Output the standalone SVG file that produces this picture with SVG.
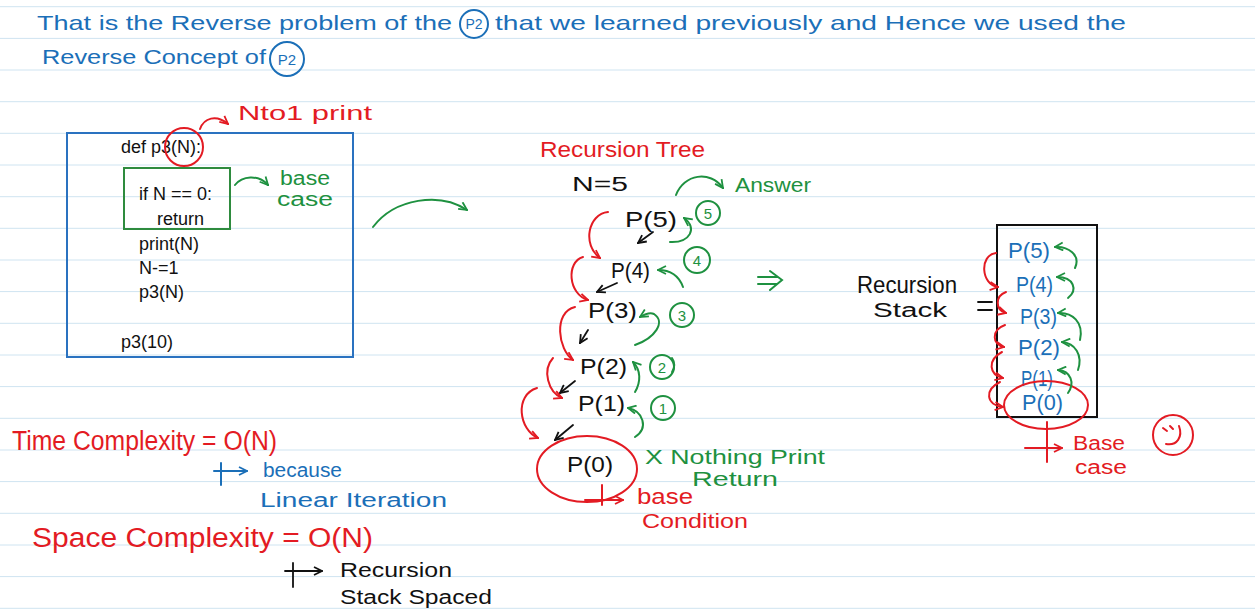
<svg xmlns="http://www.w3.org/2000/svg" width="1255" height="615" viewBox="0 0 1255 615">
<defs>
<style>
.rule{stroke:#cfe4f1;stroke-width:1}
.t{font-family:"Liberation Sans",Arial,sans-serif}
.code{font-family:"Liberation Sans",Arial,sans-serif;font-size:18px;fill:#111}
.blue{fill:#1b6fb8}
.red{fill:#e31b23}
.green{fill:#1e9140}
.black{fill:#111}
.sr{fill:none;stroke:#e31b23;stroke-width:2;stroke-linecap:round}
.sg{fill:none;stroke:#1e9140;stroke-width:2;stroke-linecap:round}
.sk{fill:none;stroke:#111;stroke-width:1.8;stroke-linecap:round}
.sb{fill:none;stroke:#1b6fb8;stroke-width:2;stroke-linecap:round}
.node{font-family:"Liberation Sans",Arial,sans-serif;font-size:22px}
</style>
<marker id="mr" viewBox="0 0 10 10" refX="9" refY="5" markerWidth="10" markerHeight="10" markerUnits="userSpaceOnUse" orient="auto"><path d="M1,1 L9,5 L1,9" fill="none" stroke="#e31b23" stroke-width="1.8"/></marker>
<marker id="mg" viewBox="0 0 10 10" refX="9" refY="5" markerWidth="10" markerHeight="10" markerUnits="userSpaceOnUse" orient="auto"><path d="M1,1 L9,5 L1,9" fill="none" stroke="#1e9140" stroke-width="1.8"/></marker>
<marker id="mk" viewBox="0 0 10 10" refX="9" refY="5" markerWidth="10" markerHeight="10" markerUnits="userSpaceOnUse" orient="auto"><path d="M1,1 L9,5 L1,9" fill="none" stroke="#111" stroke-width="1.8"/></marker>
<marker id="mb" viewBox="0 0 10 10" refX="9" refY="5" markerWidth="10" markerHeight="10" markerUnits="userSpaceOnUse" orient="auto"><path d="M1,1 L9,5 L1,9" fill="none" stroke="#1b6fb8" stroke-width="1.8"/></marker>
</defs>
<rect width="1255" height="615" fill="#ffffff"/>
<g id="ruled">
<line class="rule" x1="0" y1="6.7" x2="1255" y2="6.7"/>
<line class="rule" x1="0" y1="38.4" x2="1255" y2="38.4"/>
<line class="rule" x1="0" y1="70" x2="1255" y2="70"/>
<line class="rule" x1="0" y1="101.7" x2="1255" y2="101.7"/>
<line class="rule" x1="0" y1="133.3" x2="1255" y2="133.3"/>
<line class="rule" x1="0" y1="165" x2="1255" y2="165"/>
<line class="rule" x1="0" y1="196.7" x2="1255" y2="196.7"/>
<line class="rule" x1="0" y1="228.3" x2="1255" y2="228.3"/>
<line class="rule" x1="0" y1="260" x2="1255" y2="260"/>
<line class="rule" x1="0" y1="291.6" x2="1255" y2="291.6"/>
<line class="rule" x1="0" y1="323.3" x2="1255" y2="323.3"/>
<line class="rule" x1="0" y1="355" x2="1255" y2="355"/>
<line class="rule" x1="0" y1="386.6" x2="1255" y2="386.6"/>
<line class="rule" x1="0" y1="418.3" x2="1255" y2="418.3"/>
<line class="rule" x1="0" y1="450" x2="1255" y2="450"/>
<line class="rule" x1="0" y1="481.6" x2="1255" y2="481.6"/>
<line class="rule" x1="0" y1="513.3" x2="1255" y2="513.3"/>
<line class="rule" x1="0" y1="545" x2="1255" y2="545"/>
<line class="rule" x1="0" y1="576.6" x2="1255" y2="576.6"/>
<line class="rule" x1="0" y1="608.3" x2="1255" y2="608.3"/>
</g>

<g id="header">
<text class="t blue" x="37" y="30" font-size="21" textLength="415" lengthAdjust="spacingAndGlyphs">That is the Reverse problem of the</text>
<circle cx="474" cy="24" r="14" class="sb"/>
<text class="t blue" x="474" y="29" font-size="14" text-anchor="middle">P2</text>
<text class="t blue" x="495" y="30" font-size="21" textLength="631" lengthAdjust="spacingAndGlyphs">that we learned previously and Hence we used the</text>
<text class="t blue" x="42" y="64" font-size="21" textLength="224" lengthAdjust="spacingAndGlyphs">Reverse Concept of</text>
<circle cx="287" cy="59" r="17" class="sb"/>
<text class="t blue" x="287" y="65" font-size="15" text-anchor="middle">P2</text>
</g>

<g id="code-box">
<rect x="67" y="133" width="286" height="224" fill="none" stroke="#2a72c0" stroke-width="2"/>
<text class="code" x="121" y="153">def p3(N):</text>
<text class="code" x="139" y="200">if N == 0:</text>
<text class="code" x="157" y="225">return</text>
<text class="code" x="139" y="250">print(N)</text>
<text class="code" x="139" y="274">N-=1</text>
<text class="code" x="139" y="298">p3(N)</text>
<text class="code" x="121" y="348">p3(10)</text>
</g>

<g id="base-case-box">
<rect x="124" y="168" width="106" height="61" fill="none" stroke="#2e8b3e" stroke-width="2"/>
</g>

<g id="n-circle">
<circle cx="184" cy="147" r="19" class="sr"/>
</g>

<g id="note-nto1">
<text class="t red" x="238" y="120" font-size="20" textLength="134" lengthAdjust="spacingAndGlyphs">Nto1 print</text>
</g>

<g id="note-base-case">
<text class="t green" x="280" y="185" font-size="20" textLength="50" lengthAdjust="spacingAndGlyphs">base</text>
<text class="t green" x="277" y="206" font-size="20" textLength="56" lengthAdjust="spacingAndGlyphs">case</text>
</g>

<g id="tree-title">
<text class="t red" x="540" y="157" font-size="22" textLength="165" lengthAdjust="spacingAndGlyphs">Recursion Tree</text>
<text class="t black" x="572" y="191" font-size="20" textLength="56" lengthAdjust="spacingAndGlyphs">N=5</text>
<text class="t green" x="735" y="192" font-size="20" textLength="76" lengthAdjust="spacingAndGlyphs">Answer</text>
</g>

<g id="tree-p5"><text class="node black" x="625" y="227" textLength="52" lengthAdjust="spacingAndGlyphs">P(5)</text></g>
<g id="tree-p4"><text class="node black" x="611" y="278" textLength="39" lengthAdjust="spacingAndGlyphs">P(4)</text></g>
<g id="tree-p3"><text class="node black" x="588" y="318" textLength="49" lengthAdjust="spacingAndGlyphs">P(3)</text></g>
<g id="tree-p2"><text class="node black" x="580" y="374" textLength="47" lengthAdjust="spacingAndGlyphs">P(2)</text></g>
<g id="tree-p1"><text class="node black" x="578" y="411" textLength="47" lengthAdjust="spacingAndGlyphs">P(1)</text></g>
<g id="tree-p0">
<ellipse cx="587" cy="469" rx="50" ry="33" class="sr"/>
<text class="node black" x="567" y="472" textLength="46" lengthAdjust="spacingAndGlyphs">P(0)</text>
</g>

<g id="tree-returns">
<circle cx="708" cy="213" r="12" class="sg"/><text class="t green" x="708" y="219" font-size="15" text-anchor="middle">5</text>
<circle cx="697" cy="260" r="13" class="sg"/><text class="t green" x="697" y="266" font-size="15" text-anchor="middle">4</text>
<circle cx="682" cy="315" r="12" class="sg"/><text class="t green" x="682" y="321" font-size="15" text-anchor="middle">3</text>
<circle cx="662" cy="367" r="12" class="sg"/><text class="t green" x="662" y="373" font-size="15" text-anchor="middle">2</text>
<circle cx="663" cy="408" r="12" class="sg"/><text class="t green" x="663" y="414" font-size="15" text-anchor="middle">1</text>
</g>

<g id="note-nothing">
<text class="t green" x="645" y="464" font-size="20" textLength="180" lengthAdjust="spacingAndGlyphs">X Nothing Print</text>
<text class="t green" x="692" y="486" font-size="20" textLength="86" lengthAdjust="spacingAndGlyphs">Return</text>
</g>

<g id="note-base-condition">
<text class="t red" x="637" y="504" font-size="22" textLength="56" lengthAdjust="spacingAndGlyphs">base</text>
<text class="t red" x="642" y="528" font-size="20" textLength="106" lengthAdjust="spacingAndGlyphs">Condition</text>
</g>

<g id="stack-label">
<text class="t black" x="857" y="293" font-size="24" textLength="100" lengthAdjust="spacingAndGlyphs">Recursion</text>
<text class="t black" x="873" y="317" font-size="20" textLength="74" lengthAdjust="spacingAndGlyphs">Stack</text>
<path class="sk" d="M978,302 L992,302 M978,310 L992,310"/>
</g>

<g id="stack">
<rect x="997" y="225" width="100" height="192" fill="none" stroke="#111" stroke-width="2"/>
<text class="node blue" x="1008" y="258" textLength="42" lengthAdjust="spacingAndGlyphs">P(5)</text>
<text class="node blue" x="1016" y="292" textLength="37" lengthAdjust="spacingAndGlyphs">P(4)</text>
<text class="node blue" x="1020" y="324" textLength="37" lengthAdjust="spacingAndGlyphs">P(3)</text>
<text class="node blue" x="1018" y="355" textLength="42" lengthAdjust="spacingAndGlyphs">P(2)</text>
<text class="node blue" x="1021" y="386" font-size="20" textLength="32" lengthAdjust="spacingAndGlyphs">P(1)</text>
<text class="node blue" x="1022" y="410" textLength="41" lengthAdjust="spacingAndGlyphs">P(0)</text>
<ellipse cx="1046" cy="405" rx="42" ry="24" class="sr"/>
</g>

<g id="note-stack-base">
<text class="t red" x="1073" y="450" font-size="20" textLength="52" lengthAdjust="spacingAndGlyphs">Base</text>
<text class="t red" x="1075" y="474" font-size="20" textLength="52" lengthAdjust="spacingAndGlyphs">case</text>
</g>

<g id="smiley">
<circle cx="1173" cy="435" r="20" class="sr"/>
<path class="sr" d="M1163,428 l4,3 M1170,426 l3,3 M1179,426 C1183,437 1177,446 1166,444"/>
</g>

<g id="time-complexity">
<text class="t red" x="12" y="450" font-size="27" textLength="265" lengthAdjust="spacingAndGlyphs">Time Complexity = O(N)</text>
<text class="t blue" x="263" y="477" font-size="20" textLength="79" lengthAdjust="spacingAndGlyphs">because</text>
<text class="t blue" x="260" y="507" font-size="20" textLength="187" lengthAdjust="spacingAndGlyphs">Linear Iteration</text>
</g>

<g id="space-complexity">
<text class="t red" x="32" y="547" font-size="27" textLength="341" lengthAdjust="spacingAndGlyphs">Space Complexity = O(N)</text>
<text class="t black" x="340" y="577" font-size="20" textLength="112" lengthAdjust="spacingAndGlyphs">Recursion</text>
<text class="t black" x="340" y="604" font-size="20" textLength="152" lengthAdjust="spacingAndGlyphs">Stack Spaced</text>
</g>

<g id="connectors">
<path class="sr" d="M200,129 C204,118 216,114 228,124" marker-end="url(#mr)"/>
<path class="sg" d="M235,185 C242,176 258,174 268,185" marker-end="url(#mg)"/>
<path class="sg" d="M373,227 C395,198 440,192 467,210" marker-end="url(#mg)"/>
<path class="sg" d="M676,195 C684,174 710,170 723,188" marker-end="url(#mg)"/>
<path class="sk" d="M653,232 L638,243" marker-end="url(#mk)"/>
<path class="sk" d="M617,283 L597,292" marker-end="url(#mk)"/>
<path class="sk" d="M588,330 L580,343" marker-end="url(#mk)"/>
<path class="sk" d="M575,381 L560,393" marker-end="url(#mk)"/>
<path class="sk" d="M573,425 L555,440" marker-end="url(#mk)"/>
<path class="sr" d="M608,212 C588,214 582,245 600,258" marker-end="url(#mr)"/>
<path class="sr" d="M583,257 C566,262 568,294 588,300" marker-end="url(#mr)"/>
<path class="sr" d="M575,307 C553,312 558,350 573,360" marker-end="url(#mr)"/>
<path class="sr" d="M553,358 C542,370 548,392 562,398" marker-end="url(#mr)"/>
<path class="sr" d="M537,388 C514,395 519,430 538,438" marker-end="url(#mr)"/>
<path class="sg" d="M670,242 C690,243 698,228 684,218" marker-end="url(#mg)"/>
<path class="sg" d="M683,287 C679,276 670,270 658,270" marker-end="url(#mg)"/>
<path class="sg" d="M635,345 C655,338 666,322 654,314 C650,312 645,314 640,317" marker-end="url(#mg)"/>
<path class="sg" d="M635,392 C641,382 641,370 633,362" marker-end="url(#mg)"/>
<path class="sg" d="M635,437 C649,428 643,411 628,408" marker-end="url(#mg)"/>
<path class="sg" d="M672,372 C675,368 675,362 672,358"/>
<path class="sr" d="M602,485 L602,505 M585,500 L623,500" marker-end="url(#mr)"/>
<path class="sg" d="M758,277 L777,277 M758,284 L777,284 M770,271 L782,280 L770,290"/>
<path class="sr" d="M996,253 C979,255 981,285 998,287" marker-end="url(#mr)"/>
<path class="sr" d="M1006,292 C995,296 995,310 1006,313" marker-end="url(#mr)"/>
<path class="sr" d="M1005,325 C991,330 992,345 1004,347" marker-end="url(#mr)"/>
<path class="sr" d="M1002,352 C987,360 989,375 1003,378" marker-end="url(#mr)"/>
<path class="sr" d="M1000,382 C984,390 986,405 1003,407" marker-end="url(#mr)"/>
<path class="sg" d="M1075,268 C1081,255 1068,246 1055,247" marker-end="url(#mg)"/>
<path class="sg" d="M1068,298 C1078,290 1074,277 1057,277" marker-end="url(#mg)"/>
<path class="sg" d="M1080,340 C1084,322 1072,312 1058,313" marker-end="url(#mg)"/>
<path class="sg" d="M1078,370 C1083,355 1075,343 1062,342" marker-end="url(#mg)"/>
<path class="sg" d="M1068,393 C1075,383 1071,371 1058,370" marker-end="url(#mg)"/>
<path class="sr" d="M1047,422 L1047,462 M1025,448 L1062,448" marker-end="url(#mr)"/>
<path class="sb" d="M221,463 L221,485 M214,471 L247,471" marker-end="url(#mb)"/>
<path class="sk" d="M293,563 L293,587 M285,571 L322,571" marker-end="url(#mk)"/>
</g>
</svg>
